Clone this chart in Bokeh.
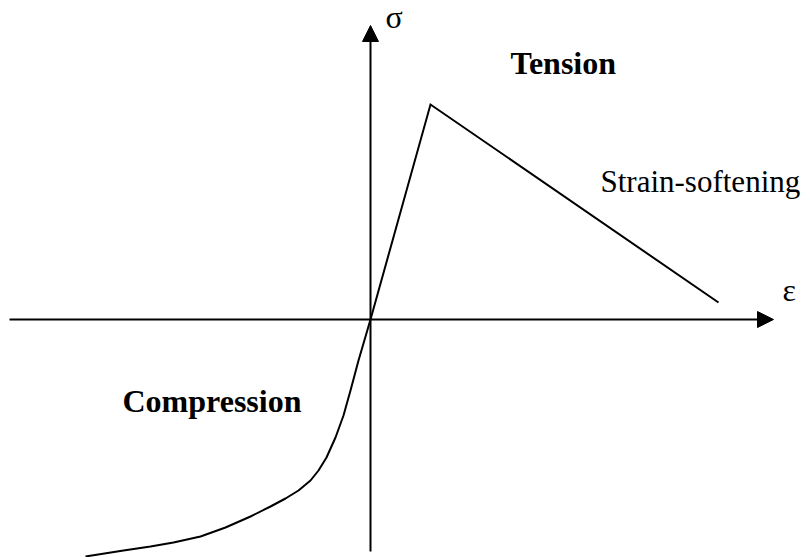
from bokeh.plotting import figure
from bokeh.models import Range1d, Arrow, NormalHead
from bokeh.core.properties import value
from bokeh.embed import file_html
from bokeh.resources import INLINE

# Schematic stress-strain law (arbitrary units)
tension_strain = [0.0, 0.60, 3.48]
tension_stress = [0.0, 2.15, 0.17]

compression_strain = [0.0, -0.12, -0.20, -0.27, -0.35, -0.44, -0.52, -0.60, -0.72,
                      -0.85, -1.00, -1.20, -1.45, -1.70, -1.97, -2.20, -2.47, -2.85]
compression_stress = [0.0, -0.41, -0.71, -0.96, -1.18, -1.38, -1.51, -1.61, -1.71,
                      -1.79, -1.87, -1.97, -2.08, -2.17, -2.23, -2.27, -2.31, -2.37]

strain_axis = [-3.61, 4.03]
stress_axis = [-2.32, 2.94]

FONT = "Liberation Serif"

p = figure(width=810, height=557, output_backend="svg", toolbar_location=None,
           x_range=Range1d(-3.70, 4.40), y_range=Range1d(-2.38, 3.19),
           min_border=0, background_fill_color="white", border_fill_color="white")
p.axis.visible = False
p.grid.visible = False
p.outline_line_color = None

# axes with arrowheads
p.add_layout(Arrow(x_start=strain_axis[0], y_start=0, x_end=strain_axis[1], y_end=0,
                   line_width=2, line_color="black",
                   end=NormalHead(size=16, fill_color="black", line_color="black", line_width=1)))
p.add_layout(Arrow(x_start=0, y_start=stress_axis[0], x_end=0, y_end=stress_axis[1],
                   line_width=2, line_color="black",
                   end=NormalHead(size=16, fill_color="black", line_color="black", line_width=1)))

# curves
p.line(tension_strain, tension_stress, line_width=2, line_color="black", line_join="miter")
p.line(compression_strain, compression_stress, line_width=2, line_color="black", line_join="round")

# labels
p.text(x=[0.15], y=[3.03], text=["σ"], text_font=value(FONT), text_font_size="32px",
       text_align="left", text_baseline="alphabetic", text_color="black")
p.text(x=[4.12], y=[0.30], text=["ε"], text_font=value(FONT), text_font_size="32px",
       text_align="left", text_baseline="alphabetic", text_color="black")
p.text(x=[1.40], y=[2.57], text=["Tension"], text_font=value(FONT), text_font_size="32px",
       text_font_style="bold", text_align="left", text_baseline="alphabetic", text_color="black")
p.text(x=[-2.48], y=[-0.81], text=["Compression"], text_font=value(FONT), text_font_size="32px",
       text_font_style="bold", text_align="left", text_baseline="alphabetic", text_color="black")
p.text(x=[2.30], y=[1.38], text=["Strain-softening"], text_font=value(FONT), text_font_size="31px",
       text_align="left", text_baseline="alphabetic", text_color="black")

open("out.html", "w").write(file_html(p, INLINE))
